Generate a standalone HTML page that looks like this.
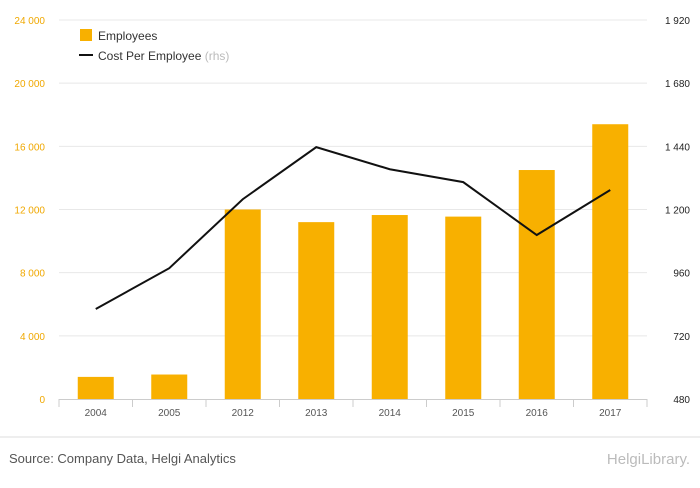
<!DOCTYPE html>
<html><head><meta charset="utf-8"><style>
body{margin:0;background:#fff;font-family:"Liberation Sans",sans-serif;}
svg text{font-family:"Liberation Sans",sans-serif;}
</style></head><body>
<svg id="chart" width="700" height="483" xmlns="http://www.w3.org/2000/svg">
<rect width="700" height="483" fill="#fff"/>
<g id="grid"></g><g id="bars"></g><g id="line"></g><g id="axes"></g>
<g>
<rect x="80" y="29" width="12" height="12" fill="#f8b000"/>
<text x="98" y="40" font-size="12" fill="#333">Employees</text>
<line x1="79" y1="55" x2="93" y2="55" stroke="#111" stroke-width="2"/>
<text x="98" y="60" font-size="12" fill="#333">Cost Per Employee <tspan fill="#bbb">(rhs)</tspan></text>
</g>
<line x1="0" y1="437" x2="700" y2="437" stroke="#ddd"/>
<text x="9" y="463" font-size="13" fill="#555">Source: Company Data, Helgi Analytics</text>
<text x="690" y="464" font-size="15" fill="#bbb" text-anchor="end">HelgiLibrary.</text>
</svg>
<script>
const categories=["2004","2005","2012","2013","2014","2015","2016","2017"];
const employees=[1400,1550,12000,11200,11650,11550,14500,17400];
const costPerEmployee=[822,977,1239,1437,1353,1304,1103,1274];
const leftTicks=[0,4000,8000,12000,16000,20000,24000];
const rightTicks=[480,720,960,1200,1440,1680,1920];
const NS="http://www.w3.org/2000/svg";
const x0=59,x1=647,yb=399,yt=20;
const band=(x1-x0)/categories.length;
const xc=i=>x0+band*(i+0.5);
const yL=v=>yb-(v/24000)*(yb-yt);
const yR=v=>yb-((v-480)/1440)*(yb-yt);
const fmt=v=>String(v).replace(/\B(?=(\d{3})+(?!\d))/g," ");
function mk(t,a,p){const e=document.createElementNS(NS,t);for(const k in a)e.setAttribute(k,a[k]);p.appendChild(e);return e;}
const grid=document.getElementById('grid'),axes=document.getElementById('axes');
leftTicks.forEach((v,i)=>{
 const y=yL(v);
 if(i>0){const g=mk('line',{x1:x0,x2:x1,y1:y,y2:y,stroke:'#e8e8e8'},grid);
 
 }
 const t=mk('text',{x:45,y:y+4,'font-size':10,fill:'#f0a800','text-anchor':'end'},axes);t.textContent=fmt(v);
 
 
});
rightTicks.forEach(v=>{
 const t=mk('text',{x:690,y:yR(v)+4,'font-size':10,fill:'#222','text-anchor':'end'},axes);t.textContent=fmt(v);
 
 
});
mk('line',{x1:x0,x2:x1,y1:yb+0.5,y2:yb+0.5,stroke:'#ccc'},axes);
const bars=document.getElementById('bars');
categories.forEach((c,i)=>{
 const b=mk('rect',{x:xc(i)-18,y:yL(employees[i]),width:36,height:yb-yL(employees[i]),fill:'#f8b000'},bars);
 
 
 mk('line',{x1:x0+band*(i+1),x2:x0+band*(i+1),y1:yb,y2:yb+8,stroke:'#ccc'},axes);
 const t=mk('text',{x:xc(i),y:416,'font-size':10,fill:'#555','text-anchor':'middle'},axes);t.textContent=c;
 
 
});
mk('line',{x1:x0,x2:x0,y1:yb,y2:yb+8,stroke:'#ccc'},axes);
const pl=mk('polyline',{points:costPerEmployee.map((v,i)=>xc(i)+','+yR(v)).join(' '),fill:'none',stroke:'#111','stroke-width':2},document.getElementById('line'));


</script>
</body></html>
